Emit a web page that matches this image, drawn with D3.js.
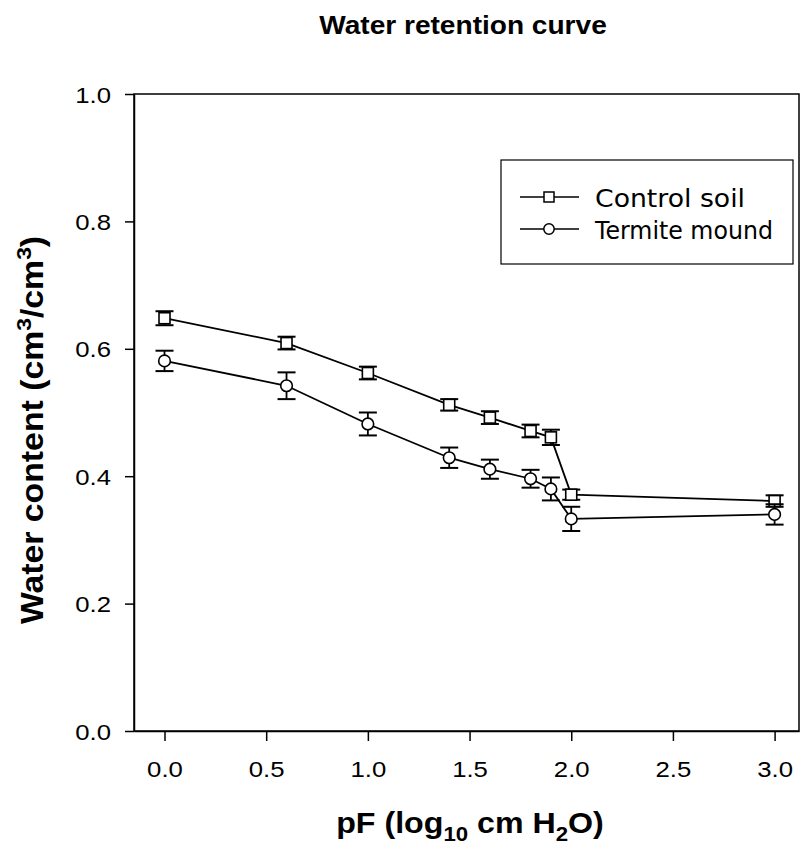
<!DOCTYPE html>
<html>
<head>
<meta charset="utf-8">
<script src="https://cdn.jsdelivr.net/npm/d3@7"></script>
<style>
  html, body { margin: 0; padding: 0; background: #fff; }
  svg { display: block; }
</style>
</head>
<body>
<script>
// ---- Data ----
const pF = [0.0, 0.6, 1.0, 1.4, 1.6, 1.8, 1.9, 2.0, 3.0];
const controlSoil = [0.648, 0.609, 0.562, 0.512, 0.492, 0.471, 0.461, 0.371, 0.361];
const controlErr  = [0.011, 0.010, 0.010, 0.009, 0.010, 0.010, 0.012, 0.008, 0.009];
const termiteMound = [0.581, 0.542, 0.482, 0.429, 0.411, 0.396, 0.380, 0.333, 0.340];
const termiteErr   = [0.016, 0.021, 0.018, 0.016, 0.015, 0.014, 0.018, 0.019, 0.016];
const xTicks = [0.0, 0.5, 1.0, 1.5, 2.0, 2.5, 3.0];
const yTicks = [0.0, 0.2, 0.4, 0.6, 0.8, 1.0];
const seriesNames = ["Control soil", "Termite mound"];

const W = 805, H = 853;
const L = 134, R = 799, T = 94, B = 731;

const svg = d3.select("body").append("svg").attr("width", W).attr("height", H);

const x = d3.scaleLinear().domain([-0.15, 3.12]).range([L, R]);
const y = d3.scaleLinear().domain([0, 1]).range([B, T]);

// frame
svg.append("rect").attr("x", L).attr("y", T).attr("width", R - L).attr("height", B - T)
  .attr("fill", "none").attr("stroke", "#000").attr("stroke-width", 1.5);

const axisFont = "'Liberation Sans', Arial, sans-serif";

const xAxis = svg.append("g").attr("transform", `translate(0,${B})`)
  .call(d3.axisBottom(x).tickValues(xTicks).tickFormat(d3.format(".1f")).tickSize(10).tickSizeOuter(0));
const yAxis = svg.append("g").attr("transform", `translate(${L},0)`)
  .call(d3.axisLeft(y).tickValues(yTicks).tickFormat(d3.format(".1f")).tickSize(9).tickSizeOuter(0));
[xAxis, yAxis].forEach(a => {
  a.select(".domain").attr("stroke", "#000").attr("stroke-width", 1.5);
  a.selectAll(".tick line").attr("stroke", "#000").attr("stroke-width", 1.5);
  a.selectAll(".tick text").attr("fill", "#000").style("font-family", axisFont).style("font-size", "23px");
});
xAxis.selectAll(".tick text").attr("dy", "0").attr("y", 46).attr("transform", "scale(1.12,1)");
yAxis.selectAll(".tick text").attr("x", -20.5).attr("dy", "0.35em").attr("transform", "scale(1.12,1)");

// series
const series = [
  { name: seriesNames[0], vals: controlSoil, err: controlErr, shape: "square", len: 150 },
  { name: seriesNames[1], vals: termiteMound, err: termiteErr, shape: "circle", len: 178 }
];
const line = d3.line().x(d => x(d[0])).y(d => y(d[1]));

series.forEach(s => {
  const pts = pF.map((p, i) => [p, s.vals[i], s.err[i]]);
  const g = svg.append("g");
  g.append("path").datum(pts).attr("d", line).attr("fill", "none")
    .attr("stroke", "#000").attr("stroke-width", 1.8);
  const eb = g.selectAll(".eb").data(pts).enter().append("g");
  eb.append("line").attr("x1", d => x(d[0])).attr("x2", d => x(d[0]))
    .attr("y1", d => y(d[1] - d[2])).attr("y2", d => y(d[1] + d[2]))
    .attr("stroke", "#000").attr("stroke-width", 1.8);
  [-1, 1].forEach(sg => {
    eb.append("line").attr("x1", d => x(d[0]) - 9).attr("x2", d => x(d[0]) + 9)
      .attr("y1", d => y(d[1] + sg * d[2])).attr("y2", d => y(d[1] + sg * d[2]))
      .attr("stroke", "#000").attr("stroke-width", 2);
  });
  if (s.shape === "square") {
    g.selectAll(".m").data(pts).enter().append("rect")
      .attr("x", d => x(d[0]) - 5.5).attr("y", d => y(d[1]) - 5.5)
      .attr("width", 11).attr("height", 11)
      .attr("fill", "#fff").attr("stroke", "#000").attr("stroke-width", 1.6);
  } else {
    g.selectAll(".m").data(pts).enter().append("circle")
      .attr("cx", d => x(d[0])).attr("cy", d => y(d[1])).attr("r", 5.8)
      .attr("fill", "#fff").attr("stroke", "#000").attr("stroke-width", 1.6);
  }
});

// legend
const lg = svg.append("g");
lg.append("rect").attr("x", 501).attr("y", 160).attr("width", 292).attr("height", 104)
  .attr("fill", "#fff").attr("stroke", "#000").attr("stroke-width", 1.2);
series.forEach((s, i) => {
  const cy = 197 + i * 32;
  lg.append("line").attr("x1", 520).attr("x2", 579).attr("y1", cy).attr("y2", cy)
    .attr("stroke", "#000").attr("stroke-width", 1.6);
  if (s.shape === "square") {
    lg.append("rect").attr("x", 549 - 5).attr("y", cy - 5).attr("width", 10).attr("height", 10)
      .attr("fill", "#fff").attr("stroke", "#000").attr("stroke-width", 1.5);
  } else {
    lg.append("circle").attr("cx", 549).attr("cy", cy).attr("r", 5.2)
      .attr("fill", "#fff").attr("stroke", "#000").attr("stroke-width", 1.5);
  }
  lg.append("text").attr("x", 595).attr("y", cy + 9.5)
    .attr("textLength", s.len).attr("lengthAdjust", "spacingAndGlyphs")
    .style("font-family", "'DejaVu Sans', Verdana, sans-serif").style("font-size", "25px")
    .text(s.name);
});

// title
svg.append("text").attr("transform", "translate(463,34) scale(1.08,1)").attr("text-anchor", "middle")
  .style("font-family", axisFont).style("font-weight", "bold").style("font-size", "26px")
  .text("Water retention curve");

// x label
const xl = svg.append("text").attr("transform", "translate(470,833) scale(1.11,1)").attr("text-anchor", "middle")
  .style("font-family", axisFont).style("font-weight", "bold").style("font-size", "29px");
xl.append("tspan").text("pF (log");
xl.append("tspan").attr("dy", 8).style("font-size", "20px").text("10");
xl.append("tspan").attr("dy", -8).text(" cm H");
xl.append("tspan").attr("dy", 8).style("font-size", "20px").text("2");
xl.append("tspan").attr("dy", -8).text("O)");

// y label
const yl = svg.append("text").attr("transform", "translate(43,430) rotate(-90) scale(1.09,1)")
  .attr("text-anchor", "middle")
  .style("font-family", axisFont).style("font-weight", "bold").style("font-size", "31px");
yl.append("tspan").text("Water content (cm");
yl.append("tspan").attr("dy", -12).style("font-size", "21px").text("3");
yl.append("tspan").attr("dy", 12).text("/cm");
yl.append("tspan").attr("dy", -12).style("font-size", "21px").text("3");
yl.append("tspan").attr("dy", 12).text(")");
</script>
</body>
</html>
